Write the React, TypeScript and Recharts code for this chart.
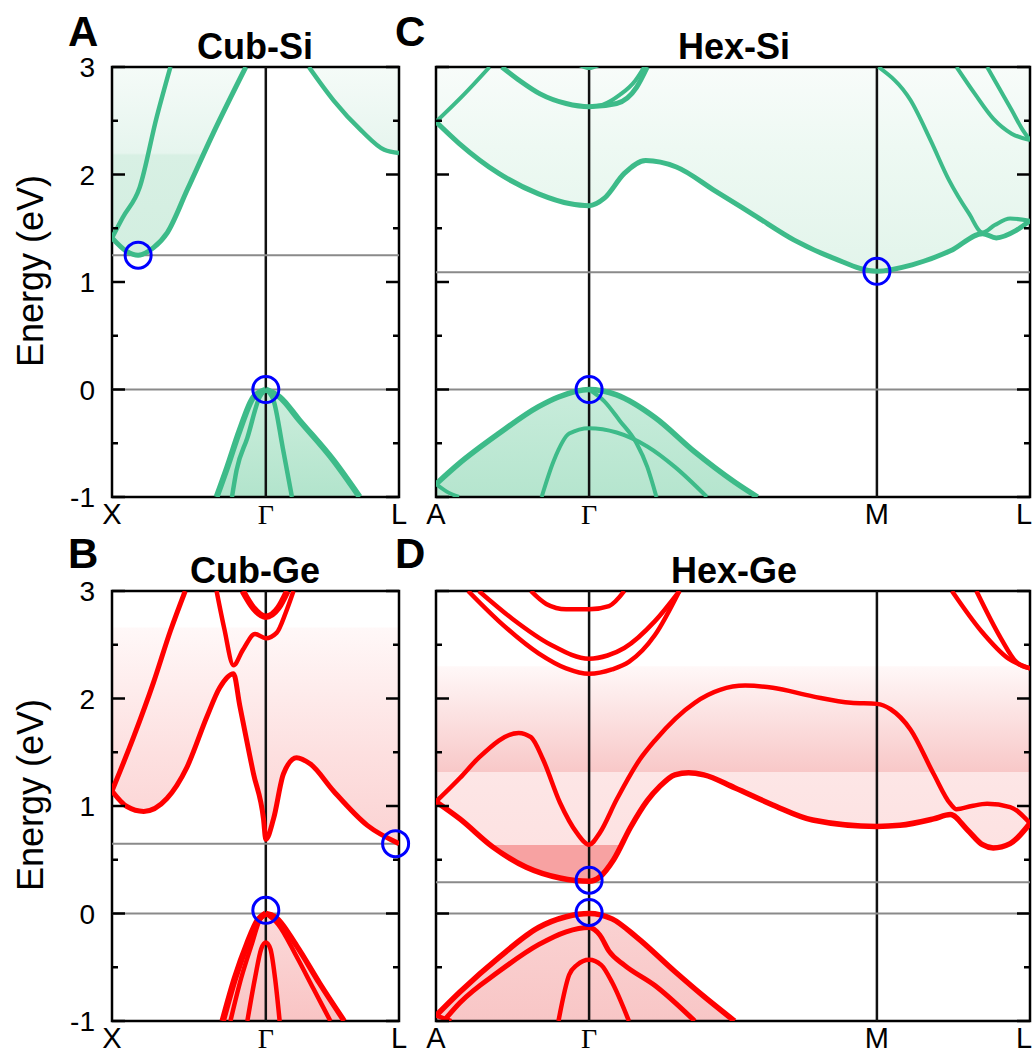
import React from 'react';
import {
  ComposedChart,
  Line,
  Area,
  XAxis,
  YAxis,
  ReferenceLine,
  ReferenceArea,
  ReferenceDot,
} from 'recharts';

type Pt = [number, number];

// k along the path (units of 2π/a for cubic, A-Γ = 1 for hexagonal), energy in eV

// ---- Cub-Si ----
const cubSiPoints = [0, 1, 1.866];
const cubSiNames = ['X', 'Γ', 'L'];
const cubSiCond1: Pt[] = [[0, 1.41], [0.09, 1.29], [0.17, 1.25], [0.27, 1.32], [0.36, 1.46], [0.49, 1.86], [0.66, 2.39], [0.87, 3.0]];
const cubSiCond2: Pt[] = [[0, 1.41], [0.07, 1.6], [0.18, 1.88], [0.29, 2.53], [0.38, 3.0]];
const cubSiCond3: Pt[] = [[1.28, 3.0], [1.44, 2.69], [1.62, 2.41], [1.77, 2.23], [1.866, 2.2]];
const cubSiVal1: Pt[] = [[0.68, -1], [0.75, -0.72], [0.83, -0.38], [0.92, -0.07], [1, 0]];
const cubSiVal2: Pt[] = [[0.78, -1], [0.81, -0.75], [0.88, -0.45], [0.96, -0.07], [1, 0]];
const cubSiVal3: Pt[] = [[1, 0], [1.05, -0.1], [1.11, -0.54], [1.17, -1]];
const cubSiVal4: Pt[] = [[1, 0], [1.09, -0.07], [1.22, -0.29], [1.44, -0.66], [1.61, -1]];
const cubSiGap = [0, 1.25];
const cubSiEdges: Pt[] = [[0.17, 1.25], [1, 0]];

// ---- Hex-Si ----
const hexPoints = [0, 1, 2.88, 3.88];
const hexNames = ['A', 'Γ', 'M', 'L'];
const hexSiCond1: Pt[] = [[0, 2.49], [0.15, 2.29], [0.41, 2.01], [0.67, 1.82], [0.87, 1.73], [1, 1.71], [1.1, 1.78], [1.23, 2.01], [1.37, 2.13], [1.57, 2.07], [1.82, 1.85], [2.08, 1.62], [2.34, 1.39], [2.6, 1.22], [2.88, 1.1], [3.11, 1.16], [3.36, 1.29], [3.57, 1.45], [3.66, 1.41], [3.79, 1.48], [3.88, 1.57]];
const hexSiCond2: Pt[] = [[0, 2.49], [0.18, 2.74], [0.35, 3.0]];
const hexSiCond3: Pt[] = [[0.43, 3.0], [0.55, 2.87], [0.68, 2.75], [0.85, 2.66], [1, 2.63], [1.18, 2.66], [1.31, 2.81], [1.38, 3.0]];
const hexSiCond4: Pt[] = [[1, 2.63], [1.09, 2.65], [1.2, 2.74], [1.3, 2.87], [1.36, 3.0]];
const hexSiCond5: Pt[] = [[0.92, 3.03], [1, 2.99], [1.08, 3.03]];
const hexSiCond6: Pt[] = [[2.89, 3.0], [3.1, 2.69], [3.23, 2.32], [3.35, 1.95], [3.48, 1.64], [3.57, 1.46], [3.65, 1.53], [3.75, 1.59], [3.88, 1.57]];
const hexSiCond7: Pt[] = [[3.4, 3.0], [3.52, 2.75], [3.64, 2.52], [3.76, 2.38], [3.88, 2.32]];
const hexSiCond8: Pt[] = [[3.6, 3.0], [3.68, 2.8], [3.76, 2.6], [3.83, 2.42], [3.88, 2.32]];
const hexSiVal1: Pt[] = [[0, -0.88], [0.15, -0.69], [0.41, -0.41], [0.67, -0.16], [0.8, -0.07], [1, 0], [1.18, -0.05], [1.43, -0.26], [1.69, -0.58], [1.95, -0.86], [2.1, -1]];
const hexSiVal2: Pt[] = [[0, -0.88], [0.07, -0.95], [0.15, -1]];
const hexSiVal3: Pt[] = [[1, 0], [1.1, -0.11], [1.2, -0.29], [1.31, -0.5], [1.38, -0.72], [1.44, -1]];
const hexSiVal4: Pt[] = [[0.69, -1], [0.77, -0.66], [0.87, -0.41], [1, -0.36], [1.18, -0.4], [1.38, -0.53], [1.56, -0.72], [1.77, -1]];
const hexSiGap = [0, 1.09];
const hexSiEdges: Pt[] = [[2.88, 1.1], [1, 0]];

// ---- Cub-Ge ----
const cubGeCond1: Pt[] = [[0, 1.14], [0.097, 0.995], [0.206, 0.95], [0.357, 1.07], [0.487, 1.36], [0.617, 1.83], [0.7, 2.1], [0.79, 2.23], [0.83, 1.94], [0.92, 1.3], [0.985, 0.88], [1, 0.69], [1.05, 0.88], [1.115, 1.3], [1.2, 1.45], [1.29, 1.39], [1.44, 1.14], [1.66, 0.82], [1.866, 0.65]];
const cubGeCond2: Pt[] = [[0, 1.14], [0.14, 1.64], [0.27, 2.15], [0.38, 2.63], [0.476, 3.0]];
const cubGeCond3: Pt[] = [[0.68, 3.0], [0.73, 2.65], [0.79, 2.31], [0.85, 2.45], [0.93, 2.6], [1, 2.56], [1.07, 2.61], [1.13, 2.8], [1.18, 3.0]];
const cubGeCond4: Pt[] = [[0.85, 3.0], [0.92, 2.84], [1, 2.76], [1.08, 2.84], [1.14, 3.0]];
const cubGeVal1: Pt[] = [[0.72, -1], [0.8, -0.6], [0.88, -0.28], [0.95, -0.06], [1, 0]];
const cubGeVal2: Pt[] = [[0.77, -1], [0.84, -0.6], [0.91, -0.28], [0.96, -0.06], [1, 0]];
const cubGeVal3: Pt[] = [[0.88, -1], [0.93, -0.6], [0.97, -0.33], [1, -0.27], [1.03, -0.33], [1.06, -0.6], [1.09, -1]];
const cubGeVal4: Pt[] = [[1, 0], [1.08, -0.1], [1.2, -0.4], [1.31, -0.7], [1.42, -1]];
const cubGeVal5: Pt[] = [[1, 0], [1.06, -0.03], [1.2, -0.3], [1.35, -0.65], [1.51, -1]];
const cubGeGap = [0, 0.65];
const cubGeEdges: Pt[] = [[1, 0.03], [1.844, 0.65]];
const cubGeShadeTop = 2.66;

// ---- Hex-Ge ----
const hexGeCond1: Pt[] = [[0, 1.04], [0.156, 0.88], [0.37, 0.62], [0.59, 0.43], [0.81, 0.33], [1, 0.3], [1.07, 0.34], [1.16, 0.5], [1.27, 0.8], [1.38, 1.05], [1.46, 1.18], [1.56, 1.29], [1.65, 1.31], [1.75, 1.29], [1.95, 1.17], [2.2, 1.01], [2.46, 0.87], [2.88, 0.81], [3.03, 0.82], [3.25, 0.88], [3.36, 0.92], [3.47, 0.78], [3.57, 0.64], [3.64, 0.61], [3.75, 0.65], [3.88, 0.84]];
const hexGeCond2: Pt[] = [[0, 1.04], [0.156, 1.26], [0.28, 1.45], [0.54, 1.68], [0.62, 1.64], [0.7, 1.43], [0.81, 1.03], [0.92, 0.75], [1, 0.64], [1.07, 0.75], [1.18, 1.06], [1.33, 1.43], [1.43, 1.61], [1.69, 1.96], [2.02, 2.12], [2.2, 2.1], [2.46, 2.02], [2.71, 1.96], [2.88, 1.95], [2.97, 1.9], [3.1, 1.71], [3.25, 1.3], [3.36, 1.02], [3.4, 0.97], [3.5, 1.0], [3.6, 1.02], [3.75, 0.99], [3.88, 0.84]];
const hexGeCond3: Pt[] = [[0.62, 3.0], [0.72, 2.88], [0.85, 2.83], [1, 2.83], [1.13, 2.86], [1.23, 3.0]];
const hexGeCond4: Pt[] = [[0.21, 3.0], [0.41, 2.72], [0.67, 2.42], [0.85, 2.28], [1, 2.23], [1.15, 2.27], [1.26, 2.34], [1.43, 2.59], [1.59, 3.0]];
const hexGeCond5: Pt[] = [[0.28, 3.0], [0.5, 2.74], [0.75, 2.5], [1, 2.37], [1.12, 2.4], [1.23, 2.47], [1.43, 2.72], [1.59, 3.0]];
const hexGeCond6: Pt[] = [[3.37, 3.0], [3.56, 2.63], [3.74, 2.37], [3.88, 2.28]];
const hexGeCond7: Pt[] = [[3.53, 3.0], [3.69, 2.56], [3.79, 2.34], [3.88, 2.28]];
const hexGeVal1: Pt[] = [[0, -0.95], [0.156, -0.73], [0.41, -0.41], [0.67, -0.13], [0.85, -0.03], [1, 0], [1.15, -0.05], [1.31, -0.22], [1.56, -0.54], [1.74, -0.76], [1.95, -1]];
const hexGeVal2: Pt[] = [[0.05, -1], [0.156, -0.83], [0.41, -0.54], [0.67, -0.29], [0.85, -0.17], [1, -0.13], [1.07, -0.2], [1.13, -0.35], [1.23, -0.48], [1.43, -0.67], [1.69, -1]];
const hexGeVal3: Pt[] = [[0.8, -1], [0.87, -0.57], [0.92, -0.48], [1, -0.43], [1.08, -0.48], [1.15, -0.64], [1.26, -1]];
const hexGeVal4: Pt[] = [[0, -0.95], [0.06, -0.98], [0.1, -1]];
const hexGeGap = [0, 0.29];
const hexGeEdges: Pt[] = [[1, 0.31], [1, 0.01]];
const hexGeShadeTop = 2.3;

const E_TICKS = [-1, -0.5, 0, 0.5, 1, 1.5, 2, 2.5, 3];

// chart geometry
const PAGE_W = 1035;
const TOP = 20;
const PLOT_H = 430;
const YW = 62;
const XH = 40;
const RIGHT = 14;
const SANS = "'Liberation Sans', Arial, sans-serif";
const SERIF = "'Liberation Serif', 'Times New Roman', serif";
const GREEN = '#3dbb89';
const RED = '#ff0000';

const rows = (pts: Pt[]) => pts.map(([k, e]) => ({ k, e }));
const above = (pts: Pt[], top: number) => pts.map(([k, e]) => ({ k, r: [e, top] }));
const below = (pts: Pt[]) => pts.map(([k, e]) => ({ k, r: [-1, e] }));

type Band = { pts: Pt[]; w: number };
type Shade = { data: { k: number; r: number[] }[]; id: string; stops: [number, string][] };

type PanelProps = {
  left: number;
  top: number;
  w: number;
  kmax: number;
  points: number[];
  names: string[];
  bands: Band[];
  shades: Shade[];
  verticals: number[];
  gaps: number[];
  rings: Pt[];
  color: string;
  labels: boolean;
};

function Panel(p: PanelProps) {
  const originX = p.left - YW;
  const yTick = (t: any) => {
    const v = t.payload.value;
    const major = Number.isInteger(v);
    const len = major ? 13 : 6;
    return (
      <g>
        <line x1={YW} x2={YW + len} y1={t.y} y2={t.y} stroke="#000" strokeWidth={2.5} />
        <line x1={YW + p.w - len} x2={YW + p.w} y1={t.y} y2={t.y} stroke="#000" strokeWidth={2.5} />
        {p.labels && major && (
          <text x={YW - 17} y={t.y} dy="0.36em" textAnchor="end" fontSize={28} fontFamily={SANS} fill="#000">
            {v}
          </text>
        )}
      </g>
    );
  };
  const xTick = (t: any) => {
    const name = p.names[p.points.indexOf(t.payload.value)];
    const greek = name === 'Γ';
    // keep the last label inside the page
    const x = Math.min(t.x, PAGE_W - 2 - originX - 9);
    return (
      <text x={x} y={TOP + PLOT_H + 27} textAnchor="middle" fontSize={greek ? 28 : 29}
        fontFamily={greek ? SERIF : SANS} fill="#000">
        {name}
      </text>
    );
  };

  return (
    <div style={{ position: 'absolute', left: originX, top: p.top - TOP }}>
      <ComposedChart width={YW + p.w + RIGHT} height={TOP + PLOT_H + XH}
        margin={{ top: TOP, right: RIGHT, bottom: 0, left: 0 }}>
        <defs>
          {p.shades.map((s) => (
            <linearGradient key={s.id} id={s.id} gradientUnits="userSpaceOnUse" x1={0} x2={0} y1={TOP} y2={TOP + PLOT_H}>
              {s.stops.map(([e, c], i) => (
                <stop key={i} offset={(3 - e) / 4} stopColor={c} />
              ))}
            </linearGradient>
          ))}
        </defs>
        <XAxis type="number" dataKey="k" domain={[0, p.kmax]} ticks={p.points} interval={0}
          allowDataOverflow axisLine={false} tickLine={false} height={XH} tick={xTick} />
        <YAxis type="number" domain={[-1, 3]} ticks={E_TICKS} interval={0} allowDataOverflow
          axisLine={false} tickLine={false} width={YW} tick={yTick} />
        {p.shades.map((s) => (
          <Area key={s.id} data={s.data} dataKey="r" type="monotone" stroke="none"
            fill={`url(#${s.id})`} fillOpacity={1} dot={false} activeDot={false} isAnimationActive={false} />
        ))}
        {p.verticals.map((v) => (
          <ReferenceLine key={`v${v}`} x={v} stroke="#111" strokeWidth={2.5} />
        ))}
        {p.gaps.map((g) => (
          <ReferenceLine key={`g${g}`} y={g} stroke="#8a8a8a" strokeWidth={2} />
        ))}
        {p.bands.map((b, i) => (
          <Line key={i} data={rows(b.pts)} dataKey="e" type="monotone" stroke={p.color}
            strokeWidth={b.w} dot={false} activeDot={false} isAnimationActive={false} />
        ))}
        <ReferenceArea x1={0} x2={p.kmax} y1={-1} y2={3} fill="none" stroke="#000" strokeWidth={2.5} ifOverflow="visible" />
        {/* band-edge markers may sit on the frame, so they are not clipped */}
        {p.rings.map(([k, e], i) => (
          <ReferenceDot key={`r${i}`} x={k} y={e} r={13} fill="none" stroke="#0000ff" strokeWidth={3} ifOverflow="visible" />
        ))}
      </ComposedChart>
    </div>
  );
}

export default function App() {
  const cubSi: PanelProps = {
    left: 112, top: 67, w: 287, kmax: 1.866, points: cubSiPoints, names: cubSiNames,
    bands: [
      { pts: cubSiCond1, w: 5 }, { pts: cubSiCond2, w: 4.5 }, { pts: cubSiCond3, w: 4.5 },
      { pts: cubSiVal1, w: 6 }, { pts: cubSiVal2, w: 4.5 }, { pts: cubSiVal3, w: 4.5 }, { pts: cubSiVal4, w: 6 },
    ],
    shades: [
      { data: above(cubSiCond1, 3), id: 'csiC1', stops: [[3, '#f5fbf8'], [2.2, '#e6f5ee'], [2.18, '#d8f0e4'], [1.2, '#d2eee0']] },
      { data: above(cubSiCond3, 3), id: 'csiC3', stops: [[3, '#f5fbf8'], [2.2, '#e6f5ee'], [2.18, '#d8f0e4'], [1.2, '#d2eee0']] },
      { data: below([...cubSiVal1, ...cubSiVal4.slice(1)]), id: 'csiV', stops: [[0, '#cdeedd'], [-1, '#b2e4cc']] },
    ],
    verticals: [1], gaps: cubSiGap, rings: cubSiEdges, color: GREEN, labels: true,
  };

  const hexSi: PanelProps = {
    left: 436, top: 67, w: 594, kmax: 3.88, points: hexPoints, names: hexNames,
    bands: [
      { pts: hexSiCond1, w: 5 }, { pts: hexSiCond2, w: 4 }, { pts: hexSiCond3, w: 5 }, { pts: hexSiCond4, w: 4 },
      { pts: hexSiCond5, w: 4 }, { pts: hexSiCond6, w: 4 }, { pts: hexSiCond7, w: 4 }, { pts: hexSiCond8, w: 4 },
      { pts: hexSiVal1, w: 5.5 }, { pts: hexSiVal2, w: 4 }, { pts: hexSiVal3, w: 4 }, { pts: hexSiVal4, w: 4 },
    ],
    shades: [
      { data: above(hexSiCond1, 3), id: 'hsiC', stops: [[3, '#f8fcfa'], [2.26, '#eef9f3'], [1.0, '#e1f4ea']] },
      { data: below(hexSiVal1), id: 'hsiV', stops: [[0, '#c8ecdb'], [-1, '#b5e5ce']] },
    ],
    verticals: [1, 2.88], gaps: hexSiGap, rings: hexSiEdges, color: GREEN, labels: false,
  };

  const cubGe: PanelProps = {
    left: 112, top: 591, w: 287, kmax: 1.866, points: cubSiPoints, names: cubSiNames,
    bands: [
      { pts: cubGeCond1, w: 5 }, { pts: cubGeCond2, w: 5 }, { pts: cubGeCond3, w: 4.5 }, { pts: cubGeCond4, w: 6.5 },
      { pts: cubGeVal1, w: 6.5 }, { pts: cubGeVal2, w: 4.5 }, { pts: cubGeVal3, w: 4.5 }, { pts: cubGeVal4, w: 4.5 }, { pts: cubGeVal5, w: 5.5 },
    ],
    shades: [
      { data: above(cubGeCond1, cubGeShadeTop), id: 'cgeC', stops: [[2.66, '#fff8f8'], [1.5, '#fde0e0'], [0.6, '#fbd2d2']] },
      { data: below([...cubGeVal1, ...cubGeVal5.slice(1)]), id: 'cgeV', stops: [[0, '#fbdada'], [-1, '#f9c4c4']] },
    ],
    verticals: [1], gaps: cubGeGap, rings: cubGeEdges, color: RED, labels: true,
  };

  const hexGe: PanelProps = {
    left: 436, top: 591, w: 594, kmax: 3.88, points: hexPoints, names: hexNames,
    bands: [
      { pts: hexGeCond1, w: 5.5 }, { pts: hexGeCond2, w: 4.5 }, { pts: hexGeCond3, w: 4.5 }, { pts: hexGeCond4, w: 4.5 },
      { pts: hexGeCond5, w: 4.5 }, { pts: hexGeCond6, w: 4.5 }, { pts: hexGeCond7, w: 4.5 },
      { pts: hexGeVal1, w: 5.5 }, { pts: hexGeVal2, w: 5 }, { pts: hexGeVal3, w: 4.5 }, { pts: hexGeVal4, w: 4.5 },
    ],
    shades: [
      {
        data: above(hexGeCond1, hexGeShadeTop), id: 'hgeC',
        stops: [[2.3, '#fff8f8'], [1.32, '#f8c8c8'], [1.32, '#fde6e6'], [0.64, '#fde2e2'], [0.64, '#f7a2a2'], [0.2, '#f7a2a2']],
      },
      { data: below(hexGeVal1), id: 'hgeV', stops: [[0, '#fad2d2'], [-1, '#f8c6c6']] },
    ],
    verticals: [1, 2.88], gaps: hexGeGap, rings: hexGeEdges, color: RED, labels: false,
  };

  return (
    <div style={{ position: 'absolute', left: 0, top: 0, width: PAGE_W, height: 1053, overflow: 'hidden', background: '#fff' }}>
      <Panel {...cubSi} />
      <Panel {...hexSi} />
      <Panel {...cubGe} />
      <Panel {...hexGe} />
      <svg width={PAGE_W} height={1053} style={{ position: 'absolute', left: 0, top: 0, pointerEvents: 'none' }}>
        <g fontFamily={SANS} fill="#000">
          <text x={68} y={46} fontSize={42} fontWeight="bold">A</text>
          <text x={395} y={46} fontSize={42} fontWeight="bold">C</text>
          <text x={68} y={568} fontSize={42} fontWeight="bold">B</text>
          <text x={395} y={568} fontSize={42} fontWeight="bold">D</text>
          <text x={255} y={59} fontSize={36} fontWeight="bold" textAnchor="middle">Cub-Si</text>
          <text x={734} y={59} fontSize={36} fontWeight="bold" textAnchor="middle">Hex-Si</text>
          <text x={255} y={583} fontSize={36} fontWeight="bold" textAnchor="middle">Cub-Ge</text>
          <text x={734} y={583} fontSize={36} fontWeight="bold" textAnchor="middle">Hex-Ge</text>
          <text transform="translate(43,271) rotate(-90)" fontSize={36} textAnchor="middle">Energy (eV)</text>
          <text transform="translate(43,795) rotate(-90)" fontSize={36} textAnchor="middle">Energy (eV)</text>
        </g>
      </svg>
    </div>
  );
}
